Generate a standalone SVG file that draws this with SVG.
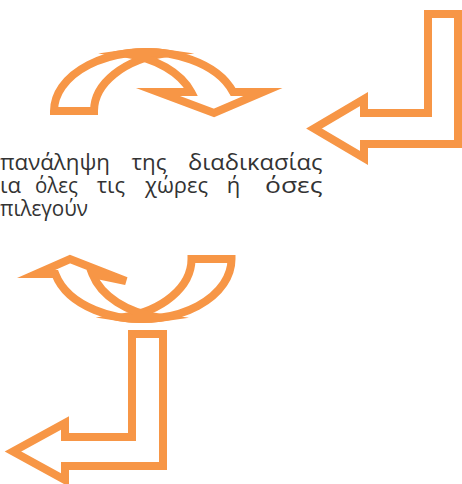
<svg xmlns="http://www.w3.org/2000/svg" width="462" height="484" viewBox="0 0 462 484">
  <style>
    .arrow { fill: none; stroke: #F79646; stroke-width: 8; stroke-miterlimit: 10; }
    .t { font-family: "Open Sans", "DejaVu Sans", sans-serif; font-size: 22px; fill: #333333; }
  </style>
  <rect width="462" height="484" fill="#ffffff"/>

  <!-- curved arrow, top: bends over to the right and points down -->
  <g id="curved-arrow-top">
    <path class="arrow" d="M54,111 A92,59 0 0 1 166,53.4 A92,59 0 0 0 94,111 Z"/>
    <path class="arrow" d="M125,53.6 A92,59 0 0 1 233.1,92 L263,92 L214,113 L158,92 L191.1,92 A92,59 0 0 0 125,53.6 Z"/>
  </g>

  <!-- bent arrow, top right: down then left -->
  <g id="bent-arrow-top">
    <path class="arrow" d="M458,14 L458,144 L364,144 L364,158 L314,128.5 L364,99 L364,113 L428,113 L428,14 Z"/>
  </g>

  <!-- caption, justified word by word -->
  <g id="caption">
    <text class="t" x="0" y="170" textLength="110" lengthAdjust="spacingAndGlyphs">πανάληψη</text>
    <text class="t" x="131.5" y="170" textLength="35" lengthAdjust="spacingAndGlyphs">της</text>
    <text class="t" x="188" y="170" textLength="134.5" lengthAdjust="spacingAndGlyphs">διαδικασίας</text>

    <text class="t" x="0" y="193" textLength="21" lengthAdjust="spacingAndGlyphs">ια</text>
    <text class="t" x="35" y="193" textLength="43" lengthAdjust="spacingAndGlyphs">όλες</text>
    <text class="t" x="96.7" y="193" textLength="28.3" lengthAdjust="spacingAndGlyphs">τις</text>
    <text class="t" x="145" y="193" textLength="63" lengthAdjust="spacingAndGlyphs">χώρες</text>
    <text class="t" x="226.7" y="193">ή</text>
    <text class="t" x="265" y="193" textLength="57.5" lengthAdjust="spacingAndGlyphs">όσες</text>

    <text class="t" x="0" y="216" textLength="88" lengthAdjust="spacingAndGlyphs">πιλεγούν</text>
  </g>

  <!-- curved arrow, bottom: U-turn up to the left -->
  <g id="curved-arrow-bottom">
    <path class="arrow" d="M231.5,259 A89.5,60 0 0 1 122,317.5 A89.5,60 0 0 0 191.5,259 Z"/>
    <path class="arrow" d="M160.5,317.7 A89.5,60 0 0 1 55.3,274 L36,274 L70,259 L126,281 L92.4,274 A89.5,60 0 0 0 160.5,317.7 Z"/>
  </g>

  <!-- bent arrow, bottom left: down then left -->
  <g id="bent-arrow-bottom">
    <path class="arrow" d="M163,334 L163,466 L65,466 L65,480 L13,451.5 L65,423 L65,437 L132,437 L132,334 Z"/>
  </g>
</svg>
